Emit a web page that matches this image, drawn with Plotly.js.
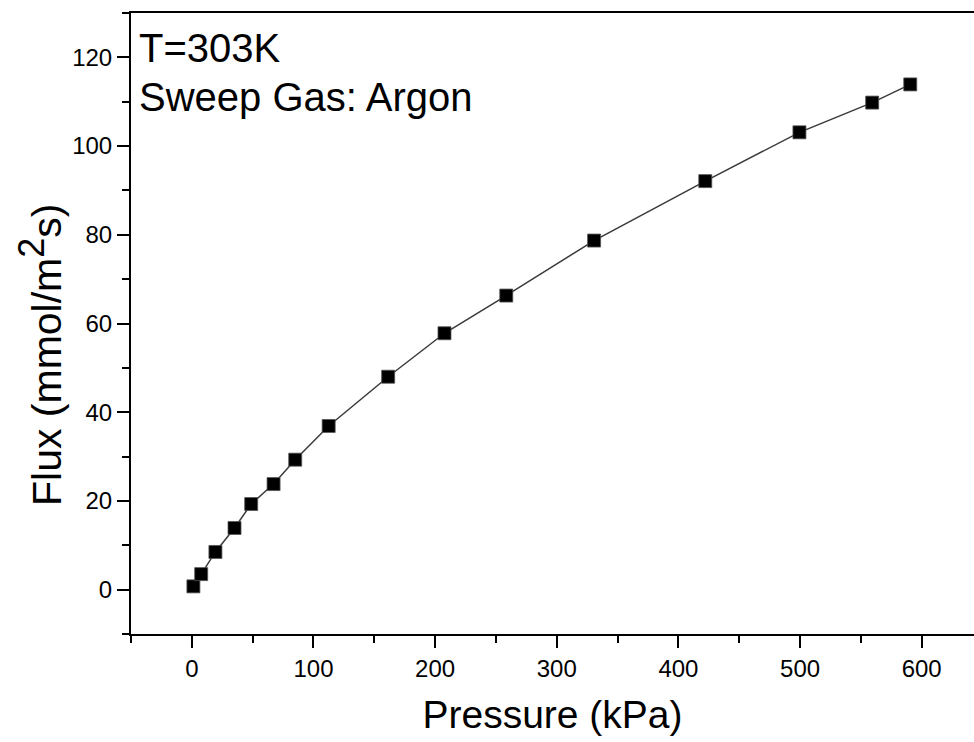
<!DOCTYPE html>
<html>
<head>
<meta charset="utf-8">
<script src="https://cdn.plot.ly/plotly-3.0.1.min.js"></script>
<style>html,body{margin:0;padding:0;background:#fff;}#chart{width:974px;height:742px;}</style>
</head>
<body>
<div id="chart"></div>
<script>
const pressure = [1.3, 7.7, 19.4, 35.1, 48.8, 67.2, 85.0, 112.5, 161.4, 207.7, 258.5, 330.7, 422.1, 499.5, 559.3, 590.6];
const flux = [0.74, 3.5, 8.5, 13.9, 19.3, 23.8, 29.3, 36.9, 48.0, 57.8, 66.3, 78.7, 92.1, 103.1, 109.8, 113.9];
const xTickVals = [0, 100, 200, 300, 400, 500, 600];
const yTickVals = [0, 20, 40, 60, 80, 100, 120];
const xTitle = 'Pressure (kPa)';
const yTitle = 'Flux (mmol/m<sup><span style="font-size:36px">2</span></sup>s)';
const noteLines = ['T=303K', 'Sweep Gas: Argon'];

const font = 'Liberation Sans, Arial, sans-serif';

const trace = {
  x: pressure, y: flux, type: 'scatter', mode: 'lines+markers',
  line: {color: '#3a3a3a', width: 1.5},
  marker: {symbol: 'square', size: 13, color: '#000', line: {color: '#555', width: 0.8}},
  hoverinfo: 'skip'
};

const layout = {
  width: 974, height: 742,
  margin: {l: 131, r: 0, t: 13, b: 108, pad: 0},
  paper_bgcolor: '#fff', plot_bgcolor: '#fff',
  showlegend: false,
  font: {family: font, color: '#000', size: 24},
  xaxis: {
    range: [-50, 643], showgrid: false, zeroline: false,
    showline: true, linecolor: '#000', linewidth: 2, mirror: true,
    ticks: 'outside', ticklen: 12, tickwidth: 2, tickcolor: '#000',
    tickvals: xTickVals, ticktext: xTickVals.map(String),
    tickfont: {family: font, size: 24, color: '#000'},
    minor: {dtick: 50, tick0: 0, ticks: 'outside', ticklen: 7, tickwidth: 2, tickcolor: '#000', showgrid: false},
    title: {text: xTitle, font: {family: font, size: 39, color: '#000'}, standoff: 20},
    automargin: false
  },
  yaxis: {
    range: [-10, 130], showgrid: false, zeroline: false,
    showline: true, linecolor: '#000', linewidth: 2, mirror: false,
    ticks: 'outside', ticklen: 12, tickwidth: 2, tickcolor: '#000',
    tickvals: yTickVals, ticktext: yTickVals.map(String),
    tickfont: {family: font, size: 24, color: '#000'},
    minor: {dtick: 10, tick0: 0, ticks: 'outside', ticklen: 7, tickwidth: 2, tickcolor: '#000', showgrid: false},
    automargin: false
  },
  annotations: [
    {text: noteLines[0], xref: 'paper', yref: 'paper', x: 0.007, y: 0.944, xanchor: 'left', yanchor: 'middle', showarrow: false, font: {family: font, size: 40, color: '#000'}},
    {text: noteLines[1], xref: 'paper', yref: 'paper', x: 0.007, y: 0.865, xanchor: 'left', yanchor: 'middle', showarrow: false, font: {family: font, size: 40, color: '#000'}},
    {text: yTitle, xref: 'paper', yref: 'paper', x: (40 - 131) / 843, y: (634 - 355) / 621, xanchor: 'center', yanchor: 'middle', textangle: -90, showarrow: false, font: {family: font, size: 41, color: '#000'}}
  ]
};

Plotly.newPlot('chart', [trace], layout, {displayModeBar: false, staticPlot: true});
</script>
</body>
</html>
